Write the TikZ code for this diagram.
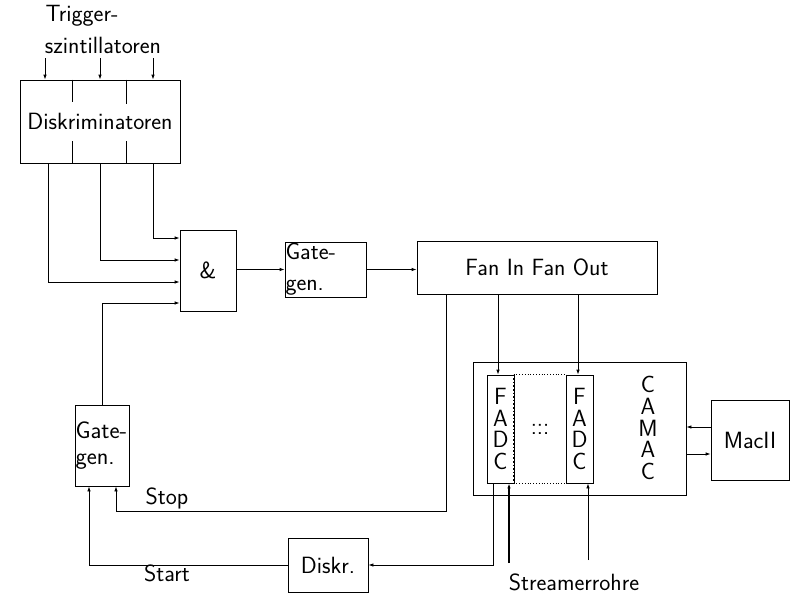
\documentclass[tikz,border=0pt]{standalone}
\usetikzlibrary{arrows.meta,calc}
\begin{document}
\begin{tikzpicture}[x=1pt,y=-1pt, line width=0.8pt,
  every node/.style={font=\sffamily\fontsize{23.5}{27}\selectfont},
  box/.style={draw, rectangle, inner sep=0pt},
  arr/.style={-{Latex[length=5pt,width=3.5pt]}},
  lbl/.style={inner sep=0pt}]
\useasboundingbox (0,0) rectangle (795,595);
% labels on top
\node[lbl] (trig1) at (82,16) {Trigger-};
\node[lbl] (trig2) at (103,45) {szintillatoren};
% boxes
\node[box, minimum width=160, minimum height=83] (disk) at (100,121.5) {Diskriminatoren};
\node[box, minimum width=56, minimum height=81] (and) at (208,270.5) {\&};
\node[box, minimum width=81, minimum height=55, text width=78, align=left,
      font=\sffamily\fontsize{23.5}{31}\selectfont] (gg1) at (325.5,269.5) {\hspace*{-1pt}Gate-\\\hspace*{-1pt}gen.};
\node[box, minimum width=240, minimum height=53] (fan) at (537,267.5) {Fan In Fan Out};
\node[box, minimum width=213, minimum height=133] (camac) at (579.5,428.5) {};
\node[lbl] (camactxt) at (648,428) [align=center, font=\sffamily\fontsize{23.5}{21.7}\selectfont] {C\\A\\M\\A\\C};
\node[box, minimum width=27, minimum height=108, align=center,
      font=\sffamily\fontsize{23.5}{21.5}\selectfont] (fadc1) at (500.5,429) {F\\A\\D\\C};
\node[minimum width=52, minimum height=108, inner sep=0pt] (dots) at (540,429) {:::};
\node[box, minimum width=27, minimum height=108, align=center,
      font=\sffamily\fontsize{23.5}{21.5}\selectfont] (fadc2) at (579.5,429) {F\\A\\D\\C};
\node[box, minimum width=78, minimum height=80] (mac) at (750,440) {MacII};
\node[box, minimum width=54, minimum height=81, text width=53, inner sep=0.5pt, align=left,
      font=\sffamily\fontsize{24}{26}\selectfont] (gg2) at (102,445.5) {Gate-\\gen.};
\node[box, minimum width=80, minimum height=54] (diskr) at (328,565) {Diskr.};
% other labels
\node[lbl] (stop) at (167,498) {Stop};
\node[lbl] (start) at (167,573) {Start};
\node[lbl] (streamer) at (574,582) {Streamerrohre};
% dividers in Diskriminatoren
\draw ($(disk.north west)+(53,0)$) -- ++(0,22);
\draw ($(disk.south west)+(53,0)$) -- ++(0,-22);
\draw ($(disk.north west)+(107,0)$) -- ++(0,24);
\draw ($(disk.south west)+(107,0)$) -- ++(0,-22);
% dotted region between FADCs
\draw[dotted, line width=1.6pt] (dots.north west) -- (dots.south west);
\draw[dotted, line width=1.6pt] (dots.north east) -- (dots.south east);
\draw[dotted] (dots.north west) -- (dots.north east);
\draw[dotted] (dots.south west) -- (dots.south east);
% trigger inputs
\coordinate (ti1) at (45,58);
\coordinate (ti2) at (100,58);
\coordinate (ti3) at (153,58);
\draw[arr] (ti1) -- (ti1 |- disk.north);
\draw[arr] (ti2) -- (ti2 |- disk.north);
\draw[arr] (ti3) -- (ti3 |- disk.north);
% inputs of &
\coordinate (y238) at (0,238);
\coordinate (y260) at (0,260);
\coordinate (y282) at (0,282);
\coordinate (y303) at (0,303);
\draw[arr] (disk.south -| 153,0) |- (and.west |- y238);
\draw[arr] (disk.south -| 100,0) |- (and.west |- y260);
\draw[arr] (disk.south -| 48,0) |- (and.west |- y282);
\draw[arr] (gg2.north) |- (and.west |- y303);
% chain
\draw[arr] (and.east |- gg1.west) -- (gg1.west);
\draw[arr] (gg1.east) -- (gg1.east -| fan.west);
% fan outputs
\draw[arr] (fan.south -| 498,0) -- (fadc1.north -| 498,0);
\draw[arr] (fan.south -| 578,0) -- (fadc2.north -| 578,0);
\coordinate (stopc) at (116,511);
\draw[arr] (fan.south -| 446,0) |- (stopc) -- (gg2.south -| stopc);
% start
\coordinate (startc) at (89,564);
\draw[arr] (fadc1.south -| 493,0) |- (diskr.east);
\draw[arr] (diskr.west) -- (diskr.west -| startc) -- (gg2.south -| startc);
% streamer tubes
\coordinate (s1) at (509,563);
\coordinate (s2) at (588,560);
\draw[arr, line width=1.2pt] (s1) -- (s1 |- fadc1.south);
\draw[arr] (s2) -- (s2 |- fadc2.south);
% CAMAC <-> MacII
\coordinate (y427) at (0,427);
\coordinate (y454) at (0,454);
\draw[arr] (mac.west |- y427) -- (camac.east |- y427);
\draw[arr] (camac.east |- y454) -- (mac.west |- y454);
\end{tikzpicture}
\end{document}
